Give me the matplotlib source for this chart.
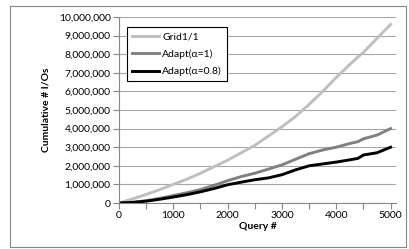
import matplotlib
matplotlib.use("Agg")
import matplotlib.pyplot as plt
from matplotlib.patches import Rectangle
from matplotlib.ticker import FuncFormatter, MultipleLocator

# data (millions of I/Os)
queries = [0, 250, 500, 750, 1000, 1250, 1500, 1750, 2000, 2250, 2500,
           2750, 3000, 3250, 3500, 3750, 4000, 4250, 4400, 4500, 4750, 5000]
grid11 = [0, 0.22, 0.46, 0.72, 1.0, 1.28, 1.6, 1.95, 2.3, 2.7, 3.1,
          3.6, 4.1, 4.65, 5.3, 6.0, 6.75, 7.45, 7.85, 8.1, 8.85, 9.6]
adapt_1 = [0, 0.04, 0.12, 0.25, 0.4, 0.55, 0.72, 0.95, 1.2, 1.42, 1.6,
           1.82, 2.05, 2.35, 2.65, 2.85, 3.0, 3.2, 3.3, 3.45, 3.65, 4.0]
adapt_08 = [0, 0.03, 0.1, 0.2, 0.32, 0.45, 0.6, 0.78, 0.98, 1.12, 1.25,
            1.35, 1.52, 1.78, 2.0, 2.1, 2.2, 2.32, 2.4, 2.58, 2.7, 3.0]

plt.rcParams['font.family'] = ['Lato', 'DejaVu Sans']
W, H = 409, 249
fig = plt.figure(figsize=(W / 100, H / 100), dpi=100)
ax = fig.add_axes([119 / W, 1 - 203 / H, (396 - 119) / W, (203 - 17) / H])

ax.plot(queries, [v * 1e6 for v in grid11], color='#BFBFBF', lw=2.1, label='Grid1/1')
ax.plot(queries, [v * 1e6 for v in adapt_1], color='#808080', lw=2.1, label='Adapt(α=1)')
ax.plot(queries, [v * 1e6 for v in adapt_08], color='#000000', lw=2.1, label='Adapt(α=0.8)')

ax.set_xlim(0, 5100)
ax.set_ylim(0, 10e6)
ax.yaxis.set_major_locator(MultipleLocator(1e6))
ax.yaxis.set_major_formatter(FuncFormatter(lambda v, p: f"{int(round(v)):,}"))
ax.xaxis.set_major_locator(MultipleLocator(1000))
ax.xaxis.set_minor_locator(MultipleLocator(500))
ax.grid(axis='y', color='#A6A6A6', lw=0.8)
ax.set_axisbelow(True)
for s in ['top', 'right']:
    ax.spines[s].set_visible(False)
for s in ['left', 'bottom']:
    ax.spines[s].set_color('#868686')
    ax.spines[s].set_linewidth(0.8)
ax.tick_params(which='both', direction='out', length=4, color='#868686', width=0.8,
               labelsize=7.5, pad=2)

ax.set_xlabel('Query #', fontsize=7.5, fontweight='bold', labelpad=1)
ax.set_ylabel('Cumulative # I/Os', fontsize=7.5, fontweight='bold', labelpad=6)

leg = ax.legend(loc='upper left', bbox_to_anchor=(8 / 277, 1 - 10 / 186),
                fontsize=7.5, fancybox=False, framealpha=1, edgecolor='black',
                handlelength=2.6, labelspacing=0.75, borderpad=0.5, handletextpad=0.3,
                borderaxespad=0)
leg.get_frame().set_linewidth(0.8)

fig.patches.append(Rectangle((10 / W, 1 - 247 / H), 396 / W, 241 / H,
                             transform=fig.transFigure, fill=False,
                             edgecolor='#868686', lw=0.8))

fig.savefig('out.png', dpi=100)
